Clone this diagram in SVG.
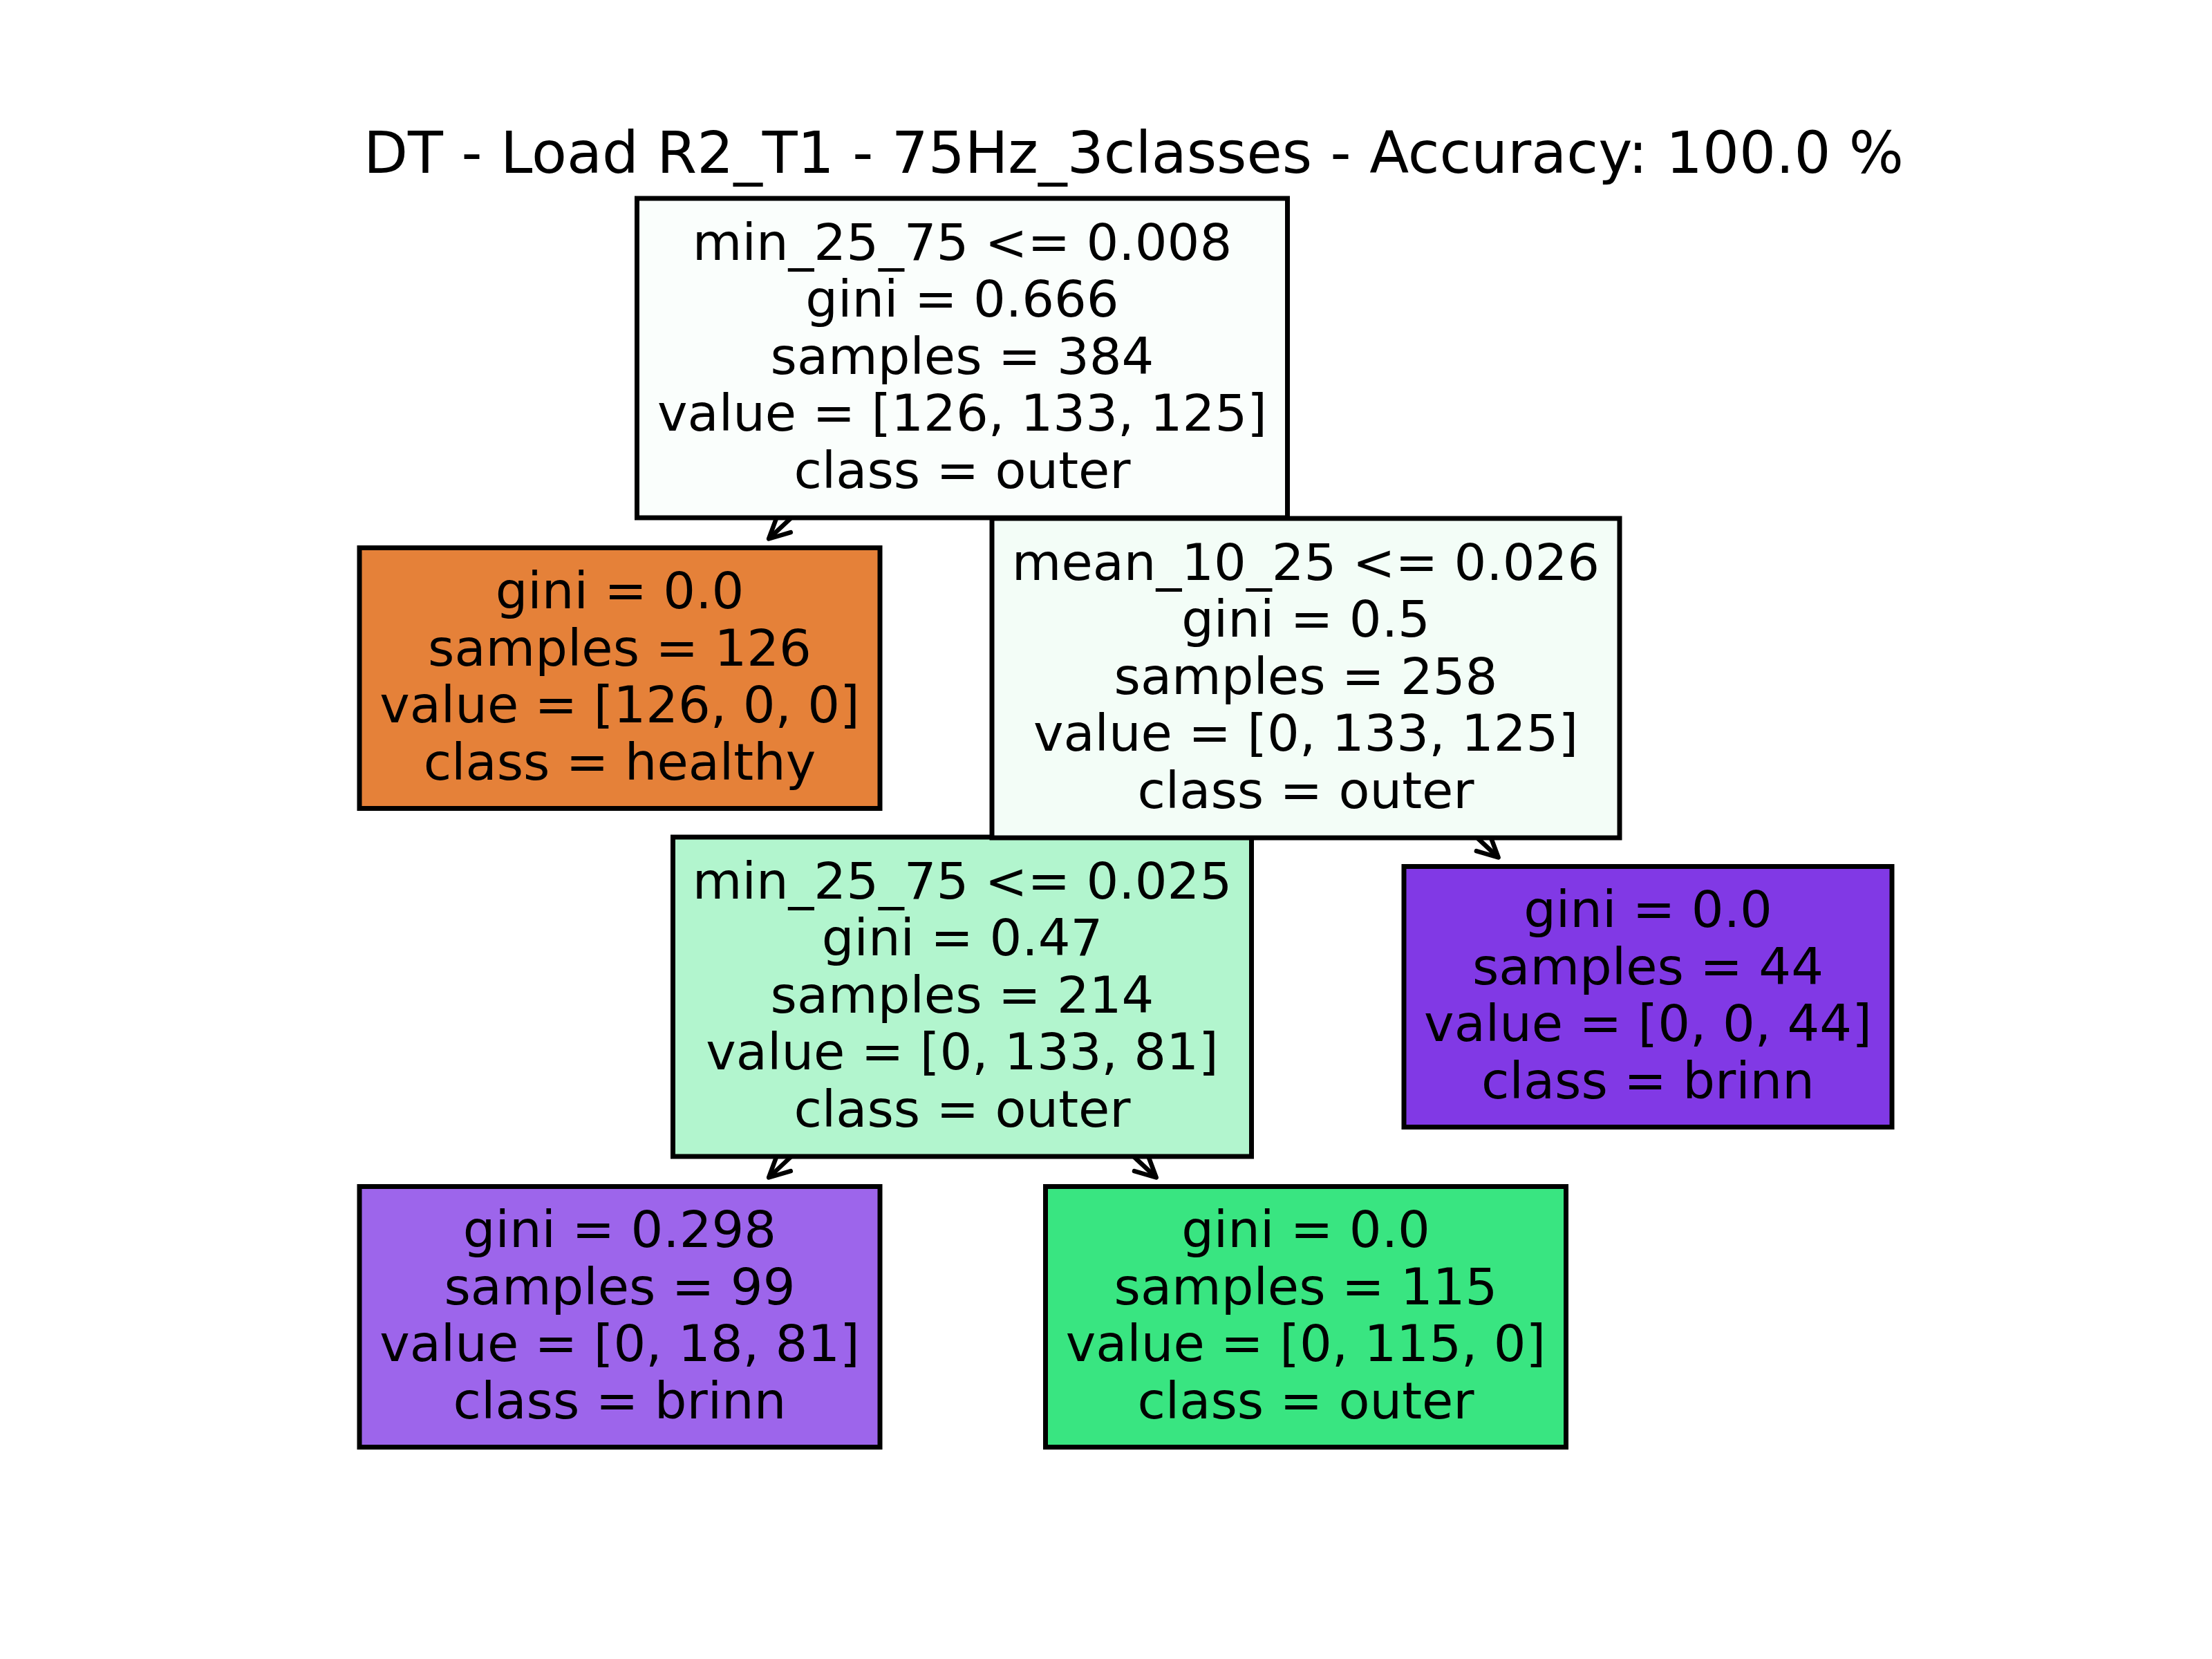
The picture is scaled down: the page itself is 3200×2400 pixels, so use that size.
<svg xmlns="http://www.w3.org/2000/svg" width="3200" height="2400" viewBox="0 0 3200 2400">
<defs>
<style>
.box{stroke:#000;stroke-width:7}
.lbl{font-family:"DejaVu Sans","Liberation Sans",sans-serif;font-size:73.6px;fill:#000;text-anchor:middle}
.title{font-family:"DejaVu Sans","Liberation Sans",sans-serif;font-size:83.3px;fill:#000;text-anchor:middle}
.edge{fill:none;stroke:#000;stroke-width:6.5;marker-start:url(#head)}
</style>
<marker id="head" markerUnits="userSpaceOnUse" orient="auto-start-reverse" refX="0" refY="0" markerWidth="80" markerHeight="80" viewBox="-40 -40 80 80" overflow="visible">
<path d="M -29.6 -14.8 L 0 0 L -29.6 14.8" fill="none" stroke="#000" stroke-width="6.5" stroke-linejoin="round" stroke-linecap="round"/>
</marker>
</defs>
<rect x="0" y="0" width="3200" height="2400" fill="#ffffff"/>
<text class="title" x="1640" y="250">DT - Load R2_T1 - 75Hz_3classes - Accuracy: 100.0 %</text>
<g id="connectors">
<path class="edge" d="M 1112.1 779.5 L 1392 518"/>
<path class="edge" d="M 1627 737 L 1392 518"/>
<path class="edge" d="M 1655.1 1198 L 1889 981"/>
<path class="edge" d="M 2167.6 1240.5 L 1889 981"/>
<path class="edge" d="M 1112.1 1703.5 L 1392 1442"/>
<path class="edge" d="M 1672.7 1703.5 L 1392 1442"/>
</g>
<g id="node-brinn99">
<rect class="box" x="520" y="1716.5" width="753" height="377" fill="#9d65eb"/>
<text class="lbl"><tspan x="896.5" y="1804">gini = 0.298</tspan><tspan x="896.5" y="1886.5">samples = 99</tspan><tspan x="896.5" y="1969">value = [0, 18, 81]</tspan><tspan x="896.5" y="2051.5">class = brinn</tspan></text>
</g>
<g id="node-outer115">
<rect class="box" x="1512.5" y="1716.5" width="753" height="377" fill="#39e581"/>
<text class="lbl"><tspan x="1889" y="1804">gini = 0.0</tspan><tspan x="1889" y="1886.5">samples = 115</tspan><tspan x="1889" y="1969">value = [0, 115, 0]</tspan><tspan x="1889" y="2051.5">class = outer</tspan></text>
</g>
<g id="node-min25-75-b">
<rect class="box" x="973.5" y="1211" width="837" height="462" fill="#b2f5ce"/>
<text class="lbl"><tspan x="1392" y="1299.5">min_25_75 &lt;= 0.025</tspan><tspan x="1392" y="1382">gini = 0.47</tspan><tspan x="1392" y="1464.5">samples = 214</tspan><tspan x="1392" y="1547">value = [0, 133, 81]</tspan><tspan x="1392" y="1629.5">class = outer</tspan></text>
</g>
<g id="node-brinn44">
<rect class="box" x="2031" y="1253.5" width="706" height="377" fill="#8139e5"/>
<text class="lbl"><tspan x="2384" y="1341">gini = 0.0</tspan><tspan x="2384" y="1423.5">samples = 44</tspan><tspan x="2384" y="1506">value = [0, 0, 44]</tspan><tspan x="2384" y="1588.5">class = brinn</tspan></text>
</g>
<g id="node-healthy">
<rect class="box" x="520" y="792.5" width="753" height="377" fill="#e58139"/>
<text class="lbl"><tspan x="896.5" y="880">gini = 0.0</tspan><tspan x="896.5" y="962.5">samples = 126</tspan><tspan x="896.5" y="1045">value = [126, 0, 0]</tspan><tspan x="896.5" y="1127.5">class = healthy</tspan></text>
</g>
<g id="node-mean10-25">
<rect class="box" x="1435" y="750" width="908" height="462" fill="#f3fdf7"/>
<text class="lbl"><tspan x="1889" y="838.5">mean_10_25 &lt;= 0.026</tspan><tspan x="1889" y="921">gini = 0.5</tspan><tspan x="1889" y="1003.5">samples = 258</tspan><tspan x="1889" y="1086">value = [0, 133, 125]</tspan><tspan x="1889" y="1168.5">class = outer</tspan></text>
</g>
<g id="node-root">
<rect class="box" x="921.5" y="287" width="941" height="462" fill="#fafefc"/>
<text class="lbl"><tspan x="1392" y="375.5">min_25_75 &lt;= 0.008</tspan><tspan x="1392" y="458">gini = 0.666</tspan><tspan x="1392" y="540.5">samples = 384</tspan><tspan x="1392" y="623">value = [126, 133, 125]</tspan><tspan x="1392" y="705.5">class = outer</tspan></text>
</g>
</svg>
